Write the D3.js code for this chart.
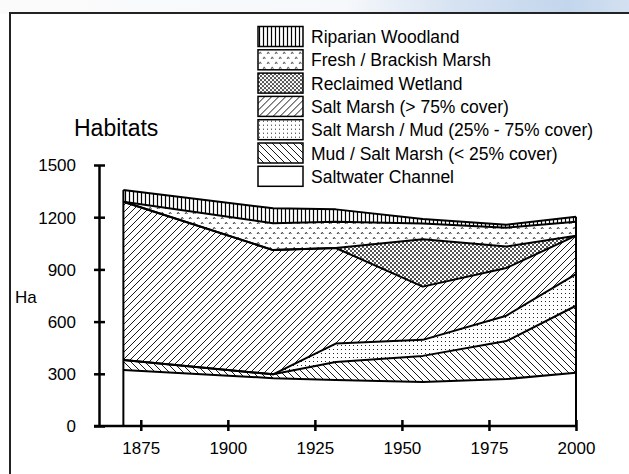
<!DOCTYPE html>
<html>
<head>
<meta charset="utf-8">
<script src="https://cdnjs.cloudflare.com/ajax/libs/d3/7.8.5/d3.min.js"></script>
<style>
  html, body { margin: 0; padding: 0; background: #fff; }
  svg { display: block; }
  text { font-family: "Liberation Sans", Arial, sans-serif; fill: #000; }
</style>
</head>
<body>
<div id="chart"></div>
<script>
// survey years
var years = [1870, 1913, 1931, 1956, 1980, 2000]

// area of each habitat (Ha), bottom of the stack first
var saltwaterChannel = [322, 275, 264, 253, 270, 306]
var mudSaltMarsh = [57, 22, 104, 150, 218, 385]
var saltMarshMud = [0, 0, 106, 92, 146, 182]
var saltMarsh = [910, 714, 549, 306, 274, 221]
var reclaimedWetland = [0, 0, 0, 272, 123, 0]
var freshMarsh = [0, 154, 151, 91, 109, 80]
var riparianWoodland = [67, 86, 71, 26, 17, 29]

var yTicks = [0, 300, 600, 900, 1200, 1500]
var xTicks = [1875, 1900, 1925, 1950, 1975, 2000]

var habitats = [
  { key: 'saltwater', label: 'Saltwater Channel', values: saltwaterChannel },
  { key: 'mud', label: 'Mud / Salt Marsh (< 25% cover)', values: mudSaltMarsh },
  { key: 'saltmud', label: 'Salt Marsh / Mud (25% - 75% cover)', values: saltMarshMud },
  { key: 'saltmarsh', label: 'Salt Marsh (> 75% cover)', values: saltMarsh },
  { key: 'reclaimed', label: 'Reclaimed Wetland', values: reclaimedWetland },
  { key: 'fresh', label: 'Fresh / Brackish Marsh', values: freshMarsh },
  { key: 'riparian', label: 'Riparian Woodland', values: riparianWoodland }
]

var width = 629
var height = 474

var svg = d3.select('#chart')
  .append('svg')
  .attr('width', width)
  .attr('height', height)

var defs = svg.append('defs')

// top strip background
var grad = defs.append('linearGradient').attr('id', 'topgrad')
grad.append('stop').attr('offset', '0').attr('stop-color', '#fbfbfb')
grad.append('stop').attr('offset', '0.55').attr('stop-color', '#f6f8fb')
grad.append('stop').attr('offset', '0.72').attr('stop-color', '#d7e3f2')
grad.append('stop').attr('offset', '0.9').attr('stop-color', '#c3d6ed')
grad.append('stop').attr('offset', '1').attr('stop-color', '#d3e0f1')

svg.append('rect')
  .attr('width', width)
  .attr('height', 14)
  .attr('fill', 'url(#topgrad)')

svg.append('rect')
  .attr('x', 10)
  .attr('y', 13)
  .attr('width', 700)
  .attr('height', 600)
  .attr('fill', '#fff')
  .attr('stroke', '#222')
  .attr('stroke-width', 2)

// fill patterns
function pattern(id, w, h) {
  var p = defs.append('pattern')
    .attr('id', id)
    .attr('patternUnits', 'userSpaceOnUse')
    .attr('width', w)
    .attr('height', h)
  p.append('rect').attr('width', w).attr('height', h).attr('fill', '#fff')
  return p
}

pattern('p-saltwater', 4, 4)

pattern('p-mud', 7, 7)
  .append('path')
  .attr('d', 'M0,0L7,7M-1,6L1,8M6,-1L8,1')
  .attr('stroke', '#000')
  .attr('stroke-width', 0.9)

var pd = pattern('p-saltmud', 4, 4)
pd.append('rect').attr('x', 1).attr('y', 1).attr('width', 1).attr('height', 1).attr('fill', '#222')

pattern('p-saltmarsh', 7, 7)
  .append('path')
  .attr('d', 'M0,7L7,0M-1,1L1,-1M6,8L8,6')
  .attr('stroke', '#000')
  .attr('stroke-width', 0.9)

var pr = pattern('p-reclaimed', 4, 4)
pr.append('circle').attr('cx', 1).attr('cy', 1).attr('r', 0.9).attr('fill', '#000')
pr.append('circle').attr('cx', 3).attr('cy', 3).attr('r', 0.9).attr('fill', '#000')

var pf = pattern('p-fresh', 8, 10)
pf.append('path')
  .attr('d', 'M1,4L2.2,2.3L3.4,4M5,9L6.2,7.3L7.4,9')
  .attr('fill', 'none')
  .attr('stroke', '#000')
  .attr('stroke-width', 0.8)

pattern('p-riparian', 4, 10)
  .append('line')
  .attr('x1', 1.5).attr('x2', 1.5)
  .attr('y1', 0).attr('y2', 10)
  .attr('stroke', '#000')
  .attr('stroke-width', 1.2)

// scales
var x = d3.scaleLinear().domain([1863, 2000]).range([99, 576])
var y = d3.scaleLinear().domain([0, 1500]).range([426, 165])

var rows = years.map(function(yr, i) {
  var row = { year: yr }
  habitats.forEach(function(h) {
    row[h.key] = h.values[i]
  })
  return row
})

var stack = d3.stack().keys(habitats.map(function(h) { return h.key }))
var layers = stack(rows)

var area = d3.area()
  .x(function(d) { return x(d.data.year) })
  .y0(function(d) { return y(d[0]) })
  .y1(function(d) { return y(d[1]) })

var topLine = d3.line()
  .x(function(d) { return x(d.data.year) })
  .y(function(d) { return y(d[1]) })

var plot = svg.append('g')

plot.selectAll('path.area')
  .data(layers)
  .enter()
  .append('path')
  .attr('class', 'area')
  .attr('d', area)
  .attr('fill', function(d) { return 'url(#p-' + d.key + ')' })

plot.selectAll('path.edge')
  .data(layers)
  .enter()
  .append('path')
  .attr('class', 'edge')
  .attr('d', topLine)
  .attr('fill', 'none')
  .attr('stroke', '#000')
  .attr('stroke-width', 2)
  .attr('stroke-linejoin', 'round')

// left and right edges of the stack
var last = layers[layers.length - 1]
;[0, years.length - 1].forEach(function(i) {
  plot.append('line')
    .attr('x1', x(years[i])).attr('x2', x(years[i]))
    .attr('y1', y(0)).attr('y2', y(last[i][1]))
    .attr('stroke', '#000')
    .attr('stroke-width', 2)
})

// axes
var yAxis = d3.axisLeft(y)
  .tickValues(yTicks)
  .tickFormat(d3.format('d'))
  .tickSizeOuter(0)

var gy = svg.append('g')
  .attr('transform', 'translate(' + x(1863) + ',0)')
  .call(yAxis)
gy.select('.domain').attr('stroke', '#000').attr('stroke-width', 2.5)
gy.selectAll('.tick line')
  .attr('x1', -5).attr('x2', 6)
  .attr('stroke', '#000').attr('stroke-width', 2.5)
gy.selectAll('.tick text')
  .attr('x', -23)
  .attr('dy', '0.35em')
  .style('font-size', '17px')
  .style('font-family', '"Liberation Sans", Arial, sans-serif')
  .attr('fill', '#000')

var xAxis = d3.axisBottom(x)
  .tickValues(xTicks)
  .tickFormat(d3.format('d'))
  .tickSizeOuter(0)

var gx = svg.append('g')
  .attr('transform', 'translate(0,' + y(0) + ')')
  .call(xAxis)
gx.select('.domain')
  .attr('d', 'M' + (x(1863) - 5) + ',0H' + x(2000))
  .attr('stroke', '#000').attr('stroke-width', 2.5)
gx.selectAll('.tick line')
  .attr('y1', -6).attr('y2', 5)
  .attr('stroke', '#000').attr('stroke-width', 2.5)
gx.selectAll('.tick text')
  .attr('y', 16)
  .attr('dy', '0.71em')
  .style('font-size', '17px')
  .style('font-family', '"Liberation Sans", Arial, sans-serif')
  .attr('fill', '#000')

svg.append('text')
  .attr('x', 15)
  .attr('y', 303)
  .style('font-size', '17px')
  .text('Ha')

svg.append('text')
  .attr('x', 74)
  .attr('y', 136)
  .style('font-size', '23px')
  .text('Habitats')

// legend, top entry first
var legend = svg.append('g')
var legendItems = habitats.slice().reverse()
var rowH = 23.3

var item = legend.selectAll('g')
  .data(legendItems)
  .enter()
  .append('g')
  .attr('transform', function(d, i) { return 'translate(258,' + (26.5 + i * rowH) + ')' })

item.append('rect')
  .attr('width', 45)
  .attr('height', 20)
  .attr('fill', function(d) { return 'url(#p-' + d.key + ')' })
  .attr('stroke', '#000')
  .attr('stroke-width', 1.5)

item.append('text')
  .attr('x', 53)
  .attr('y', 16.5)
  .style('font-size', '17.5px')
  .text(function(d) { return d.label })
</script>
</body>
</html>
